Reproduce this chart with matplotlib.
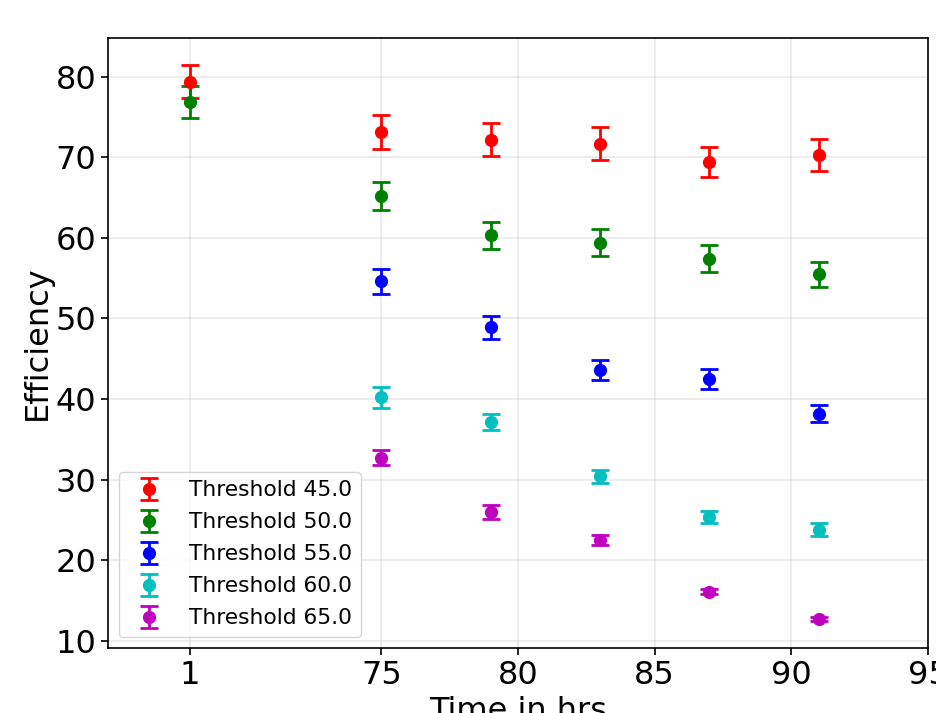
import matplotlib
matplotlib.use('Agg')
import matplotlib.pyplot as plt
import numpy as np

# data
times = [1, 75, 79, 83, 87, 91]
# the first point (t=1) is drawn squeezed next to the others
time_pos = [68, 75, 79, 83, 87, 91]
tick_pos = [68, 75, 80, 85, 90, 95]
tick_labels = ['1', '75', '80', '85', '90', '95']

labels = ['Threshold 45.0', 'Threshold 50.0', 'Threshold 55.0', 'Threshold 60.0', 'Threshold 65.0']
colors = ['r', 'g', 'b', 'c', 'm']

eff_45 = [79.4, 73.1, 72.2, 71.7, 69.4, 70.3]
err_45 = [2.0, 2.1, 2.05, 2.0, 1.9, 2.0]
eff_50 = [76.9, 65.2, 60.3, 59.4, 57.4, 55.5]
err_50 = [2.0, 1.75, 1.7, 1.7, 1.7, 1.55]
eff_55 = [np.nan, 54.6, 48.9, 43.6, 42.5, 38.2]
err_55 = [0.0, 1.55, 1.45, 1.25, 1.25, 1.1]
eff_60 = [np.nan, 40.2, 37.1, 30.4, 25.4, 23.8]
err_60 = [0.0, 1.3, 1.0, 0.8, 0.75, 0.8]
eff_65 = [np.nan, 32.7, 26.0, 22.5, 16.1, 12.7]
err_65 = [0.0, 0.95, 0.9, 0.6, 0.35, 0.3]

effs = [eff_45, eff_50, eff_55, eff_60, eff_65]
errs = [err_45, err_50, err_55, err_60, err_65]

fig = plt.figure(figsize=(9.37, 7.13), dpi=100)
ax = fig.add_axes([108 / 937, 1 - 648 / 713, (928 - 108) / 937, (648 - 38) / 713])

for y, e, c, lab in zip(effs, errs, colors, labels):
    ax.errorbar(time_pos, y, yerr=e, fmt='o', color=c, label=lab,
                markersize=8.5, capsize=6.5, elinewidth=2, capthick=2)

ax.set_xticks(tick_pos)
ax.set_xticklabels(tick_labels)
ax.set_xlim(65, 95)
ax.set_ylim(9.1, 84.8)
ax.set_yticks(np.arange(10, 81, 10))
ax.tick_params(labelsize=23, length=5, width=1.2)
for s in ax.spines.values():
    s.set_linewidth(1.2)
ax.set_xlabel('Time in hrs', fontsize=23)
ax.set_ylabel('Efficiency', fontsize=23, labelpad=2)
ax.grid(True, alpha=0.25, linewidth=1.3)
ax.legend(loc='lower left', fontsize=15.7, labelspacing=0.55)

fig.savefig('out.png', dpi=100)
